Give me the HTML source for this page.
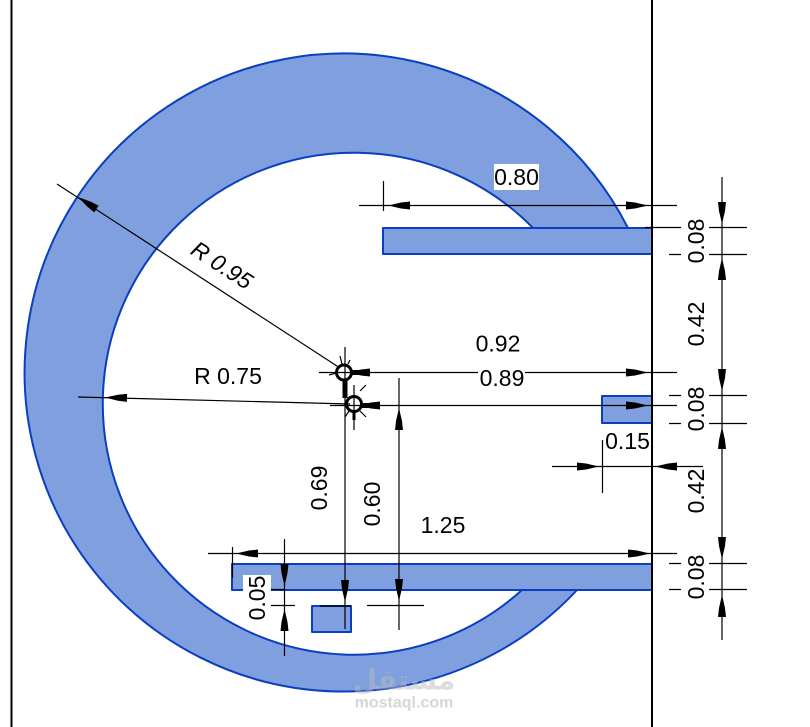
<!DOCTYPE html>
<html>
<head>
<meta charset="utf-8">
<style>
html,body{margin:0;padding:0;background:#fff;width:810px;height:727px;overflow:hidden}
svg{display:block}
text{font-family:"Liberation Sans",Arial,sans-serif;font-size:23px;fill:#000;text-anchor:middle;dominant-baseline:central}
.d{stroke:#000;stroke-width:1.2;fill:none}
.s{fill:#7f9fdf;stroke:#0a3fbf;stroke-width:2;stroke-linejoin:round}
</style>
</head>
<body>
<svg width="810" height="727" viewBox="0 0 810 727" xmlns="http://www.w3.org/2000/svg">
<defs>
<polygon id="a" points="0,0 -13,-3 -22,-4 -22,4 -13,3"/>
</defs>
<rect width="810" height="727" fill="#fff"/>
<!-- shapes -->
<path class="s" d="M628 228A319 319 0 1 0 577 590L522 590A251 251 0 1 1 533 228Z"/>
<rect class="s" x="383" y="228" width="269" height="26"/>
<rect class="s" x="602" y="396" width="50" height="27"/>
<rect class="s" x="232" y="564" width="420" height="26"/>
<rect class="s" x="312" y="606" width="39" height="26"/>
<!-- frame lines -->
<path d="M11.500 0V727M652 0V727" stroke="#000" stroke-width="2" fill="none"/>

<!-- dimension lines -->
<g class="d">
<!-- 0.80 -->
<path d="M359 205.500H677M383.500 181V211"/>
<!-- right chain -->
<path d="M722 177V640"/>
<path d="M645 227.500H681M709 227.500H747M669 254.500H681M709 254.500H747"/>
<path d="M669 395.500H681M709 395.500H747M669 423.500H681M709 423.500H747"/>
<path d="M669 563.500H681M709 563.500H747M669 589.500H681M709 589.500H747"/>
<!-- 0.92 / 0.89 -->
<path d="M319 372.500H478M525 372.500H677M330 405.500H677"/>
<!-- radii -->
<path d="M57 184L340 368M78 397L350 404"/>
<!-- 0.69 / 0.60 -->
<path d="M345 347V629M399 378V630M320 606H351M367 605.500H424M354 385V430"/>
<!-- 1.250 -->
<path d="M208 553.500H677M232.500 547V578"/>
<!-- 0.05 -->
<path d="M284.500 539V656M271 589.500H284M271 605.500H295"/>
<!-- 0.15 -->
<path d="M552 466.500H703M602.500 440V493"/>
<!-- centre marks -->
<path d="M340 356L342 364M350 360L348 364M329 375L336 373M366 385L360 391M345 417L349 411M366 417L360 411"/>
</g>

<!-- arrows -->
<g fill="#000">
<use href="#a" transform="translate(388 205.500) rotate(180)"/>
<use href="#a" transform="translate(648 205.500)"/>
<use href="#a" transform="translate(722 224) rotate(90)"/>
<use href="#a" transform="translate(722 258) rotate(-90)"/>
<use href="#a" transform="translate(722 391) rotate(90)"/>
<use href="#a" transform="translate(722 427) rotate(-90)"/>
<use href="#a" transform="translate(722 559) rotate(90)"/>
<use href="#a" transform="translate(722 595) rotate(-90)"/>
<use href="#a" transform="translate(648 372.500)"/>
<use href="#a" transform="translate(648 405.500)"/>
<use href="#a" transform="translate(348 372.500) rotate(180)"/>
<use href="#a" transform="translate(358 405.500) rotate(180)"/>
<use href="#a" transform="translate(78 197) rotate(213)"/>
<use href="#a" transform="translate(105 397.500) rotate(181)"/>
<use href="#a" transform="translate(345 602) rotate(90)"/>
<use href="#a" transform="translate(399 601) rotate(90)"/>
<use href="#a" transform="translate(399 408) rotate(-90)"/>
<use href="#a" transform="translate(236 553.500) rotate(180)"/>
<use href="#a" transform="translate(650 553.500)"/>
<use href="#a" transform="translate(284.500 586) rotate(90)"/>
<use href="#a" transform="translate(284.500 609) rotate(-90)"/>
<use href="#a" transform="translate(599 466.500)"/>
<use href="#a" transform="translate(655 466.500) rotate(180)"/>
</g>
<!-- thick stubs near centres -->
<path d="M345 380V398" stroke="#000" stroke-width="5" fill="none"/>
<path d="M354 410V420" stroke="#000" stroke-width="3" fill="none"/>
<path d="M352 372.500H370M362 405.500H380" stroke="#000" stroke-width="5" fill="none"/>

<!-- centre circles -->
<g fill="none" stroke="#000" stroke-width="3">
<circle cx="344" cy="372.500" r="7.500"/>
<circle cx="354" cy="404" r="7.500"/>
</g>

<!-- labels -->
<rect x="494" y="164" width="45" height="26" fill="#fff"/>
<text x="516.500" y="177">0.80</text>
<text x="498" y="343.500">0.92</text>
<text x="502" y="378">0.89</text>
<text x="228" y="376">R 0.75</text>
<text transform="translate(222 265) rotate(33)" style="font-style:italic">R 0.95</text>
<text x="443" y="525">1.25</text>
<text x="627.500" y="441">0.15</text>
<text transform="translate(319 488) rotate(-90)">0.69</text>
<text transform="translate(372 504) rotate(-90)">0.60</text>
<rect x="243" y="575" width="28" height="46" fill="#fff"/>
<text transform="translate(257 598) rotate(-90)">0.05</text>
<text transform="translate(696 241) rotate(-90)">0.08</text>
<text transform="translate(696 324) rotate(-90)">0.42</text>
<text transform="translate(696 409) rotate(-90)">0.08</text>
<text transform="translate(696 491) rotate(-90)">0.42</text>
<text transform="translate(696 577) rotate(-90)">0.08</text>

<!-- watermark -->
<text x="404" y="680" style="font-family:'DejaVu Sans','Noto Sans CJK SC',sans-serif;font-size:28px;font-weight:bold;fill:#bbb;fill-opacity:.5" direction="rtl">مستقل</text>
<text x="404" y="703" style="font-size:16px;font-weight:bold;fill:#ccc;fill-opacity:.8">mostaql.com</text>
</svg>
</body>
</html>
